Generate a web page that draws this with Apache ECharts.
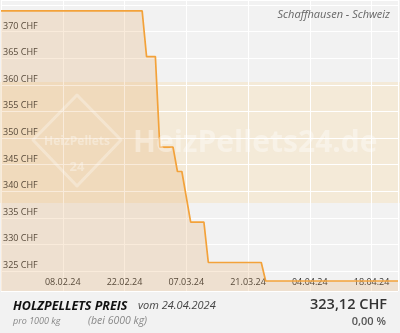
<!DOCTYPE html>
<html><head><meta charset="utf-8">
<script src="https://cdn.jsdelivr.net/npm/echarts@6/dist/echarts.min.js"></script>
<style>html,body{margin:0;padding:0;background:#f2f2f2}#c{width:400px;height:333px}</style>
</head><body><div id="c"></div>
<script>
// Price points (dates and CHF per 1000 kg)
const dates = ['2024-01-25','2024-02-26','2024-02-27','2024-02-29','2024-03-01','2024-03-04','2024-03-05','2024-03-06','2024-03-08','2024-03-11','2024-03-12','2024-03-24','2024-03-25','2024-04-24'];
const prices = [373.9, 373.9, 365.3, 365.3, 348.3, 348.3, 343.7, 343.7, 334.2, 334.2, 326.6, 326.6, 323.12, 323.12];
const xTickLabels = ['08.02.24','22.02.24','07.03.24','21.03.24','04.04.24','18.04.24'];
const yTickValues = [325,330,335,340,345,350,355,360,365,370];

const base = Date.UTC(2024,1,8);
function dayNum(s){const p=s.split('-').map(Number);return (Date.UTC(p[0],p[1]-1,p[2])-base)/86400000;}
const seriesData = dates.map((d,i)=>[dayNum(d), prices[i]]);

const chart = echarts.init(document.getElementById('c'), null, {renderer:'canvas'});
const FF = "'Open Sans', 'Liberation Sans', sans-serif";
chart.setOption({
  backgroundColor:'#f2f2f2',
  animation:false,
  grid:{left:1,right:2,top:0,bottom:42},
  xAxis:{type:'value',min:-14,max:76,interval:14,
    axisLine:{show:false},axisTick:{show:false},
    splitLine:{show:true,lineStyle:{color:'#ffffff',width:1}},
    axisLabel:{inside:true,margin:4,showMinLabel:false,showMaxLabel:false,color:'#333',fontSize:9,fontFamily:FF,
      formatter:v=>{const i=Math.round(v/14);return (i>=0&&i<xTickLabels.length)?xTickLabels[i]:'';}}},
  yAxis:{type:'value',min:321.24,max:375.94,splitNumber:10,
    axisLine:{show:false},axisTick:{show:false},
    splitLine:{show:true,lineStyle:{color:'#ffffff',width:1}},
    axisLabel:{inside:true,margin:2,showMinLabel:false,showMaxLabel:false,verticalAlign:'bottom',padding:[0,0,1,0],color:'#333',fontSize:9,fontFamily:FF,
      formatter:v=>(yTickValues.indexOf(Math.round(v*100)/100)>=0?v+' CHF':'')}},
  series:[{type:'line',data:seriesData,symbol:'none',z:3,
    lineStyle:{color:'#f3a23a',width:1.7},
    areaStyle:{color:'rgba(225,158,80,0.29)'}}],
  graphic:[
    {type:'rect',z:-1,shape:{x:0,y:82,width:400,height:121},style:{fill:'rgba(250,218,165,0.33)'}},
    {type:'polygon',z:100,shape:{points:[[77,95],[121,140],[77,186],[33,140]]},style:{fill:'none',stroke:'rgba(255,255,255,0.3)',lineWidth:3,lineJoin:'round'}},
    {type:'text',z:100,style:{text:'HeizPellets',x:77,y:142,align:'center',verticalAlign:'middle',font:"bold 12px "+FF,fill:'rgba(255,255,255,0.35)'}},
    {type:'text',z:100,style:{text:'24',x:77,y:167,align:'center',verticalAlign:'middle',font:"bold 13px "+FF,fill:'rgba(255,255,255,0.35)'}},
    {type:'text',z:100,style:{text:'HeizPellets24.de',x:133,y:143,align:'left',verticalAlign:'middle',font:"bold 30px "+FF,fill:'rgba(255,255,255,0.38)'}},
    {type:'text',z:100,style:{text:'Schaffhausen - Schweiz',x:390,y:15,align:'right',verticalAlign:'middle',font:"italic 11px "+FF,fill:'#666'}},
    {type:'text',z:100,style:{text:'HOLZPELLETS PREIS',x:13,y:306,align:'left',verticalAlign:'middle',font:"italic bold 12.5px "+FF,fill:'#111'}},
    {type:'text',z:100,style:{text:'vom 24.04.2024',x:138,y:306,align:'left',verticalAlign:'middle',font:"italic 11px "+FF,fill:'#444'}},
    {type:'text',z:100,style:{text:'pro 1000 kg',x:13,y:321,align:'left',verticalAlign:'middle',font:"italic 9px "+FF,fill:'#888'}},
    {type:'text',z:100,style:{text:'(bei 6000 kg)',x:88,y:321,align:'left',verticalAlign:'middle',font:"italic 10.5px "+FF,fill:'#888'}},
    {type:'text',z:100,style:{text:'323,12 CHF',x:387,y:305,align:'right',verticalAlign:'middle',font:"600 14.5px "+FF,fill:'#333'}},
    {type:'text',z:100,style:{text:'0,00 %',x:386,y:322,align:'right',verticalAlign:'middle',font:"600 11px "+FF,fill:'#555'}}
  ]
});
</script></body></html>
